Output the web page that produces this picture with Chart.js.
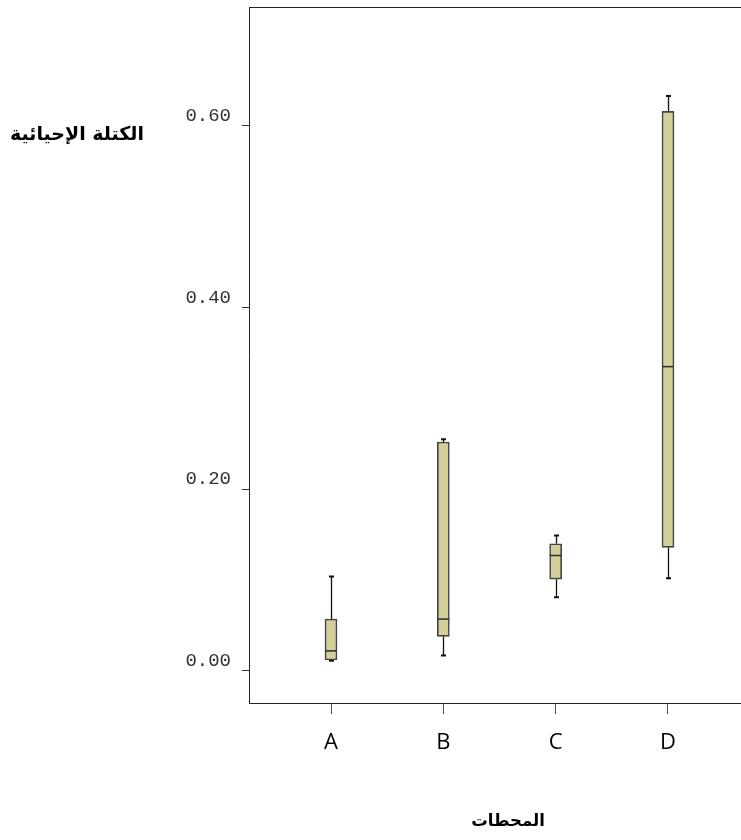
<!DOCTYPE html>
<html>
<head>
<meta charset="utf-8">
<script src="https://cdn.jsdelivr.net/npm/chart.js@4.4.0/dist/chart.umd.min.js"></script>
<style>
	body { margin: 0; background: #fff; }
	#wrap { width: 741px; height: 840px; position: relative; }
</style>
</head>
<body>
<div id="wrap"><canvas id="chart"></canvas></div>
<script>
// stations and box plot values (biomass)
var stations    = ['A', 'B', 'C', 'D'];
var whiskerLow  = [0.011, 0.017, 0.081, 0.102];
var q1          = [0.012, 0.038, 0.101, 0.136];
var median      = [0.022, 0.057, 0.127, 0.335];
var q3          = [0.057, 0.252, 0.140, 0.616];
var whiskerHigh = [0.104, 0.255, 0.149, 0.633];
var yTicks      = [0, 0.2, 0.4, 0.6];

var yTitle = 'الكتلة الإحيائية';
var xTitle = 'المحطات';

var boxData = stations.map(function(s, i) {
	return { x: i + 1, y: [q1[i], q3[i]] };
});

function $each(arr, fn) {
	for (var i = 0; i < arr.length; i++) fn(i);
}

// whiskers, caps, medians and frame
var boxPlugin = {
	id: 'boxExtras',
	beforeDatasetsDraw: function(chart) {
		var ctx = chart.ctx;
		var xs = chart.scales.x;
		var ys = chart.scales.y;
		ctx.save();
		$each(stations, function(i) {
			var x = Math.round(xs.getPixelForValue(i + 1)) + 0.5;
			var yLo = ys.getPixelForValue(whiskerLow[i]);
			var yQ1 = ys.getPixelForValue(q1[i]);
			var yQ3 = ys.getPixelForValue(q3[i]);
			var yHi = ys.getPixelForValue(whiskerHigh[i]);
			ctx.strokeStyle = '#111';
			ctx.lineWidth = 1.3;
			ctx.beginPath();
			ctx.moveTo(x, yQ3); ctx.lineTo(x, yHi);
			ctx.moveTo(x, yQ1); ctx.lineTo(x, yLo);
			ctx.stroke();
			ctx.lineWidth = 2;
			ctx.beginPath();
			ctx.moveTo(x - 2.5, yHi); ctx.lineTo(x + 2.5, yHi);
			ctx.moveTo(x - 2.5, yLo); ctx.lineTo(x + 2.5, yLo);
			ctx.stroke();
		});
		ctx.restore();
	},
	afterDatasetsDraw: function(chart) {
		var ctx = chart.ctx;
		var xs = chart.scales.x;
		var ys = chart.scales.y;
		var half = 6;
		ctx.save();
		$each(stations, function(i) {
			var x = xs.getPixelForValue(i + 1);
			var yMed = ys.getPixelForValue(median[i]);
			ctx.lineWidth = 1.6;
			ctx.strokeStyle = '#333';
			ctx.beginPath();
			ctx.moveTo(x - half, yMed); ctx.lineTo(x + half, yMed);
			ctx.stroke();
		});
		// top frame line
		var a = chart.chartArea;
		ctx.strokeStyle = '#222';
		ctx.lineWidth = 1;
		ctx.beginPath();
		ctx.moveTo(a.left, Math.round(a.top) + 0.5);
		ctx.lineTo(a.right, Math.round(a.top) + 0.5);
		ctx.stroke();
		ctx.restore();
	},
	afterDraw: function(chart) {
		var ctx = chart.ctx;
		ctx.save();
		ctx.fillStyle = '#000';
		ctx.textAlign = 'center';
		ctx.textBaseline = 'middle';
		ctx.direction = 'rtl';
		ctx.font = 'bold 19px "DejaVu Sans", sans-serif';
		ctx.fillText(yTitle, 77, 135);
		ctx.font = 'bold 16.5px "DejaVu Sans", sans-serif';
		ctx.fillText(xTitle, 508, 822);
		ctx.restore();
	}
};

var ctxBox = document.getElementById('chart').getContext('2d');
var myChart = new Chart(ctxBox, {
	type: 'bar',
	data: {
		datasets: [{
			data: boxData,
			backgroundColor: '#d4cf9a',
			borderColor: '#444',
			borderWidth: 1.6,
			borderSkipped: false,
			barThickness: 12
		}]
	},
	options: {
		responsive: true,
		maintainAspectRatio: false,
		animation: false,
		layout: { padding: { top: 7, right: 0, left: 0, bottom: 0 } },
		plugins: {
			legend: { display: false },
			tooltip: { enabled: false }
		},
		scales: {
			x: {
				type: 'linear',
				offset: false,
				min: 0.27,
				max: 4.65,
				afterBuildTicks: function(scale) {
					scale.ticks = stations.map(function(s, i) { return { value: i + 1 }; });
				},
				afterFit: function(scale) {
					scale.height = 137;
					scale.paddingLeft = 0;
					scale.paddingRight = 0;
				},
				grid: {
					offset: false,
					drawOnChartArea: false,
					drawTicks: true,
					tickLength: 11,
					color: '#555'
				},
				border: { display: true, color: '#222', width: 1 },
				ticks: {
					autoSkip: false,
					maxRotation: 0,
					padding: 16,
					color: '#000',
					font: { family: '"Open Sans", sans-serif', size: 22 },
					callback: function(v) { return stations[v - 1]; }
				}
			},
			y: {
				min: -0.0354,
				max: 0.731,
				afterBuildTicks: function(scale) {
					scale.ticks = yTicks.map(function(v) { return { value: v }; });
				},
				afterFit: function(scale) {
					scale.width = 249;
					scale.paddingTop = 0;
					scale.paddingBottom = 0;
				},
				grid: {
					drawOnChartArea: false,
					drawTicks: true,
					tickLength: 7,
					color: '#333'
				},
				border: { display: true, color: '#222', width: 1 },
				ticks: {
					padding: 11,
					labelOffset: -10,
					color: '#333',
					font: { family: '"Liberation Mono", monospace', size: 19 },
					callback: function(v) { return v.toFixed(2); }
				}
			}
		}
	},
	plugins: [boxPlugin]
});
</script>
</body>
</html>
